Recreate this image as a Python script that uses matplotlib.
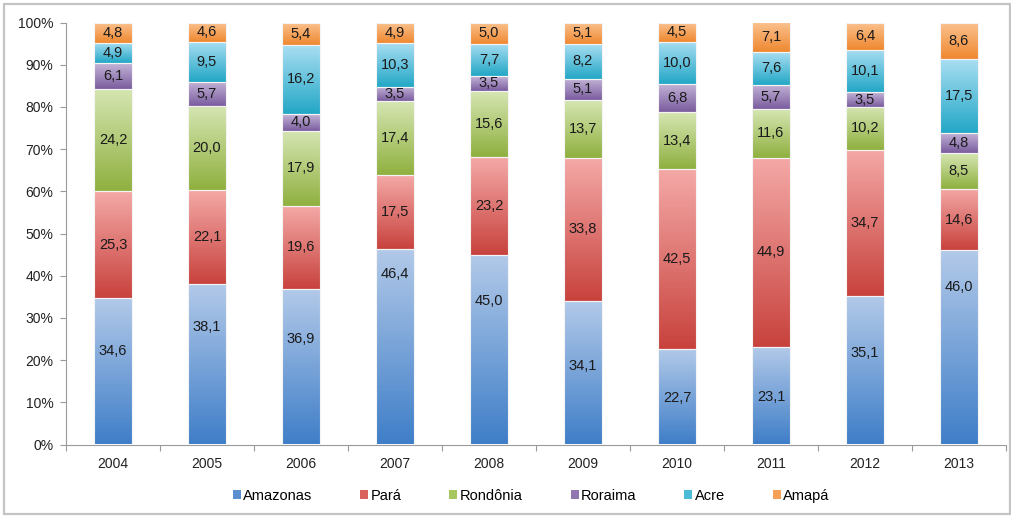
import matplotlib
matplotlib.use("Agg")
import matplotlib.pyplot as plt
import numpy as np
from matplotlib.colors import LinearSegmentedColormap
from matplotlib.patches import Patch, Rectangle

plt.rcParams['font.family'] = ['Liberation Sans', 'DejaVu Sans']

years = ['2004', '2005', '2006', '2007', '2008', '2009', '2010', '2011', '2012', '2013']
series_names = ['Amazonas', 'Pará', 'Rondônia', 'Roraima', 'Acre', 'Amapá']
amazonas = [34.6, 38.1, 36.9, 46.4, 45.0, 34.1, 22.7, 23.1, 35.1, 46.0]
para     = [25.3, 22.1, 19.6, 17.5, 23.2, 33.8, 42.5, 44.9, 34.7, 14.6]
rondonia = [24.2, 20.0, 17.9, 17.4, 15.6, 13.7, 13.4, 11.6, 10.2, 8.5]
roraima  = [6.1, 5.7, 4.0, 3.5, 3.5, 5.1, 6.8, 5.7, 3.5, 4.8]
acre     = [4.9, 9.5, 16.2, 10.3, 7.7, 8.2, 10.0, 7.6, 10.1, 17.5]
amapa    = [4.8, 4.6, 5.4, 4.9, 5.0, 5.1, 4.5, 7.1, 6.4, 8.6]
yticks = [0, 10, 20, 30, 40, 50, 60, 70, 80, 90, 100]
ytick_labels = ['0%', '10%', '20%', '30%', '40%', '50%', '60%', '70%', '80%', '90%', '100%']

# label height (in %) of the Amazonas value labels as placed in the original
amazonas_label_y = [22.2, 27.8, 25.0, 40.4, 34.0, 18.6, 11.0, 11.3, 21.7, 37.3]

# (dark bottom, light top) colours
grad_colors = [
    ('#3f7ec8', '#b3cae9'),
    ('#c8423d', '#f4a9a7'),
    ('#8fb03f', '#d6e6b3'),
    ('#7a5c9e', '#c4b5d8'),
    ('#22a7c6', '#a9def2'),
    ('#ef8830', '#fbc28f'),
]
legend_colors = ['#5b8fd0', '#d9625e', '#a6c65e', '#9077b0', '#4bbbd8', '#f5a055']

data = np.array([amazonas, para, rondonia, roraima, acre, amapa])
totals = data.sum(axis=0)
pct = data / totals * 100

W, H = 1012, 518
fig = plt.figure(figsize=(W / 100, H / 100), dpi=100)
left, right, bottom_px, top_px = 66, 1006, 444.5, 22.5
ax = fig.add_axes([left / W, (H - bottom_px) / H, (right - left) / W, (bottom_px - top_px) / H])

x = np.arange(len(years))
bw = 0.40
grad = np.linspace(0, 1, 256).reshape(-1, 1)
cum = np.zeros(len(years))
for i, name in enumerate(series_names):
    bars = ax.bar(x, pct[i], bw, bottom=cum, facecolor='none', edgecolor='#f4f4f4',
                  linewidth=0.8, zorder=3)
    cmap = LinearSegmentedColormap.from_list(name, [grad_colors[i][0], grad_colors[i][1]])
    for j, rect in enumerate(bars):
        x0, y0 = rect.get_x(), rect.get_y()
        ax.imshow(grad, extent=[x0, x0 + rect.get_width(), y0, y0 + rect.get_height()],
                  origin='lower', aspect='auto', cmap=cmap, zorder=2, interpolation='bilinear')
        if i == 0:
            ly = amazonas_label_y[j]
        else:
            ly = y0 + rect.get_height() / 2
        ax.text(x[j], ly, f"{data[i][j]:.1f}".replace('.', ','), ha='center', va='center',
                fontsize=10.5, color='#1a1a1a', zorder=4)
    cum += pct[i]

ax.set_xlim(-0.5, len(years) - 0.5)
ax.set_ylim(0, 100)
ax.set_yticks(yticks)
ax.set_yticklabels(ytick_labels)
ax.set_xticks(x)
ax.set_xticklabels(years)
ax.set_xticks(np.arange(-0.5, len(years)), minor=True)
ax.tick_params(axis='x', which='major', length=0, pad=9, labelsize=10, colors='#222222')
ax.tick_params(axis='x', which='minor', length=4, color='#9a9a9a', width=0.8)
ax.tick_params(axis='y', which='major', length=4, color='#9a9a9a', width=0.8, pad=5,
               labelsize=10, labelcolor='#222222')
for s in ['top', 'right']:
    ax.spines[s].set_visible(False)
for s in ['left', 'bottom']:
    ax.spines[s].set_color('#9a9a9a')
    ax.spines[s].set_linewidth(0.8)
ax.set_facecolor('none')

handles = [Patch(facecolor=c, edgecolor='none') for c in legend_colors]
fig.legend(handles, series_names, loc='center', bbox_to_anchor=(531 / W, (H - 496) / H),
           ncol=6, frameon=False, fontsize=10.5, handlelength=0.55, handleheight=0.55,
           handletextpad=0.15, columnspacing=3.3)

fig.patches.append(Rectangle((4 / W, 4 / H), (W - 6) / W, (H - 8) / H, transform=fig.transFigure,
                             fill=False, edgecolor='#c4c4c4', linewidth=1.6))

fig.savefig('out.png', dpi=100)
